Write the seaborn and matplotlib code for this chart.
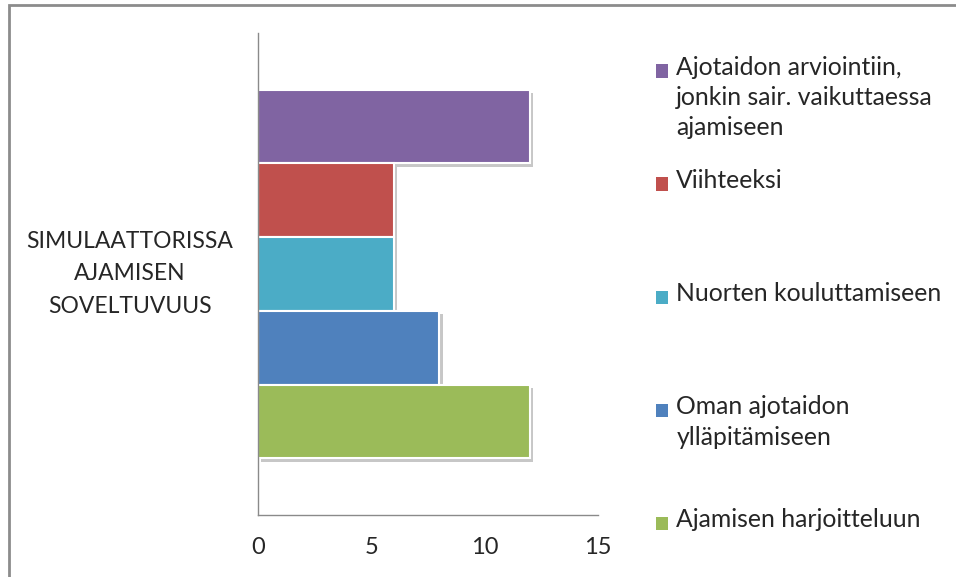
import matplotlib
matplotlib.use("Agg")
import matplotlib.pyplot as plt
import matplotlib.patheffects as pe
from matplotlib.patches import Rectangle
import seaborn as sns
import pandas as pd

# ---- data ----
category = ["SIMULAATTORISSA AJAMISEN SOVELTUVUUS"]
category_label = "SIMULAATTORISSA\nAJAMISEN\nSOVELTUVUUS"
series = [
    "Ajotaidon arviointiin,\njonkin sair. vaikuttaessa\najamiseen",
    "Viihteeksi",
    "Nuorten kouluttamiseen",
    "Oman ajotaidon\nylläpitämiseen",
    "Ajamisen harjoitteluun",
]
values = [12, 6, 6, 8, 12]
colors = ["#8064A2", "#C0504D", "#4BACC6", "#4F81BD", "#9BBB59"]
xticks = [0, 5, 10, 15]

df = pd.DataFrame({"kategoria": category * len(series), "sarja": series, "arvo": values})

sns.set_style("white")
FONT = ["Lato", "DejaVu Sans"]
plt.rcParams["font.family"] = FONT
TXT = "#262626"
GRAY = "#8a8a8a"

fig = plt.figure(figsize=(9.56, 5.77), dpi=100)
ax = fig.add_axes([258 / 956, 1 - 515 / 577, 340 / 956, 482 / 577])

sns.barplot(data=df, x="arvo", y="kategoria", hue="sarja", hue_order=series,
            palette=colors, saturation=1, orient="h", width=0.765, errorbar=None,
            edgecolor="white", linewidth=1.5, ax=ax)

# legend built from seaborn handles
old = ax.get_legend()
handles = list(old.legend_handles)
old.remove()

def pad(lbl, last):
    lines = lbl.split("\n")
    if last:
        return lbl
    return "\n".join(lines + [""] * (3 - len(lines)))

labels = [pad(s, i == len(series) - 1) for i, s in enumerate(series)]
leg = fig.legend(handles, labels, loc="upper left",
                 bbox_to_anchor=(656 / 956, 1 - 56 / 577), bbox_transform=fig.transFigure,
                 frameon=False, borderpad=0, borderaxespad=0,
                 handlelength=0.47, handleheight=0.47, handletextpad=0.35,
                 labelspacing=1.2, fontsize=17.8)
for t in leg.get_texts():
    t.set_color(TXT)
    t.set_linespacing(1.38)
# put each marker next to the first line of its label (Excel style)
for col in leg._legend_handle_box.get_children():
    for item in col.get_children():
        item.align = "top"
for h in leg.legend_handles:
    h.set_edgecolor("none")
    h.set_y(h.get_y() - 6)

# shadows on bars
for p in ax.patches:
    p.set_path_effects([pe.SimplePatchShadow(offset=(2.5, -2.5), shadow_rgbFace="k", alpha=0.22),
                        pe.Normal()])

ax.set_xlim(0, 15)
ax.set_ylim(0.5, -0.5)
ax.set_xticks(xticks)
ax.set_xticklabels([str(v) for v in xticks], fontsize=17, color=TXT)
ax.set_yticks([0])
ax.set_yticklabels([category_label], fontsize=16.5, color=TXT, multialignment="center",
                   linespacing=1.65, va="center")
ax.set_yticks([-0.5, 0.5], minor=True)
ax.tick_params(axis="y", which="major", length=0, pad=18)
ax.tick_params(axis="y", which="minor", length=7, width=1, color=GRAY, direction="out")
ax.tick_params(axis="x", which="major", length=7, width=1, color=GRAY, direction="out", pad=9)
ax.set_xlabel("")
ax.set_ylabel("")
for s in ["top", "right"]:
    ax.spines[s].set_visible(False)
for s in ["left", "bottom"]:
    ax.spines[s].set_color(GRAY)
    ax.spines[s].set_linewidth(1)
ax.grid(False)

# outer chart frame (cut at right and bottom)
fig.patches.append(Rectangle((9 / 956, -0.1), 1.2, 1.1 - 5 / 577, transform=fig.transFigure,
                             fill=False, edgecolor="#8c8c8c", linewidth=2))

fig.savefig("out.png", dpi=100)
